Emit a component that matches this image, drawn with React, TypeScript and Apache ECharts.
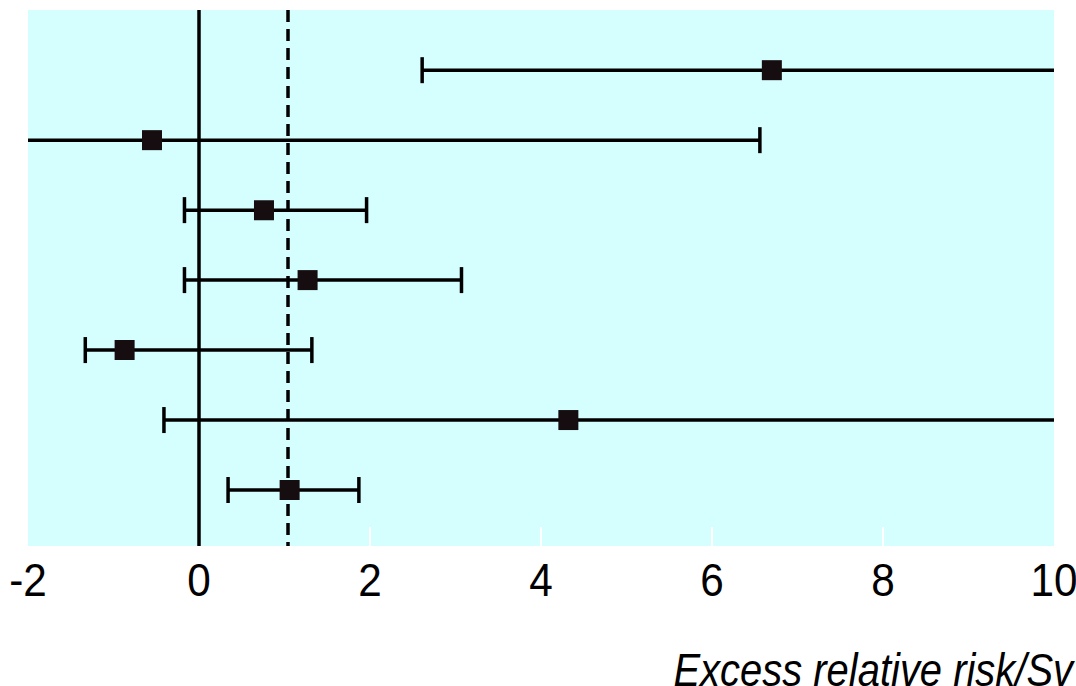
import React, { useEffect, useRef } from "react";
import * as echarts from "echarts";

const rows = [1, 2, 3, 4, 5, 6, 7];
const estimates = [6.7, -0.55, 0.76, 1.27, -0.87, 4.32, 1.06];
const lowers = [2.61, -2.6, -0.17, -0.17, -1.33, -0.41, 0.34];
const uppers = [12.5, 6.56, 1.96, 3.07, 1.32, 12.5, 1.87];
const tickValues = [-2, 0, 2, 4, 6, 8, 10];
const innerTicks = [2, 4, 6, 8];
const nullLine = 0;
const pooledLine = 1.04;
const xTitle = "Excess relative risk/Sv";

const X_MIN = -2;
const X_MAX = 10;
const Y_MIN = 0.14;
const Y_MAX = 7.8;

export default function App() {
  const ref = useRef<HTMLDivElement>(null);
  useEffect(() => {
    const chart = echarts.init(ref.current!, null, { renderer: "svg" });
    const data = rows.map((r, i) => [r, estimates[i], lowers[i], uppers[i]]);
    const font = "'Liberation Sans', Arial, Helvetica, sans-serif";
    chart.setOption({
      animation: false,
      backgroundColor: "#ffffff",
      grid: {
        left: 28,
        top: 10,
        right: 22,
        bottom: 140,
        show: true,
        backgroundColor: "#d5fefe",
        borderWidth: 0,
      },
      xAxis: {
        type: "value",
        min: X_MIN,
        max: X_MAX,
        interval: 2,
        splitLine: { show: false },
        axisLine: { show: false },
        axisTick: {
          show: true,
          inside: true,
          length: 19,
          customValues: innerTicks,
          lineStyle: { color: "#ffffff", width: 2 },
        },
        axisLabel: { show: false },
      },
      yAxis: {
        type: "value",
        inverse: true,
        min: Y_MIN,
        max: Y_MAX,
        show: false,
      },
      graphic: [
        {
          type: "text",
          x: 1073,
          y: 693,
          scaleX: 0.85,
          style: {
            text: xTitle,
            fontSize: 47,
            fontStyle: "italic",
            fontFamily: font,
            fill: "#000",
            align: "right",
            verticalAlign: "bottom",
          },
        },
      ],
      series: [
        {
          type: "custom",
          data: tickValues.map((v) => [v, Y_MAX]),
          encode: { x: 0, y: 1 },
          clip: false,
          silent: true,
          renderItem: (params: any, api: any) => {
            const v = api.value(0);
            const p = api.coord([v, api.value(1)]);
            return {
              type: "text",
              x: p[0],
              y: p[1] + 10,
              scaleX: 0.9,
              style: {
                text: String(v),
                fontSize: 47,
                fontFamily: font,
                fill: "#000",
                align: "center",
                verticalAlign: "top",
              },
            };
          },
        },
        {
          type: "custom",
          data,
          encode: { x: [1, 2, 3], y: 0 },
          clip: false,
          z: 5,
          renderItem: (params: any, api: any) => {
            const row = api.value(0);
            const est = api.value(1);
            const lo = api.value(2);
            const hi = api.value(3);
            const loC = Math.max(lo, X_MIN);
            const hiC = Math.min(hi, X_MAX);
            const pLo = api.coord([loC, row]);
            const pHi = api.coord([hiC, row]);
            const pE = api.coord([est, row]);
            const half = 13;
            const s = 20;
            const children: any[] = [
              {
                type: "line",
                shape: { x1: pLo[0], y1: pLo[1], x2: pHi[0], y2: pHi[1] },
                style: { stroke: "#000", lineWidth: 3.5 },
              },
            ];
            if (lo >= X_MIN) {
              children.push({
                type: "line",
                shape: { x1: pLo[0], y1: pLo[1] - half, x2: pLo[0], y2: pLo[1] + half },
                style: { stroke: "#000", lineWidth: 3.5 },
              });
            }
            if (hi <= X_MAX) {
              children.push({
                type: "line",
                shape: { x1: pHi[0], y1: pHi[1] - half, x2: pHi[0], y2: pHi[1] + half },
                style: { stroke: "#000", lineWidth: 3.5 },
              });
            }
            children.push({
              type: "rect",
              shape: { x: pE[0] - s / 2, y: pE[1] - s / 2, width: s, height: s },
              style: { fill: "#150d0f" },
            });
            return { type: "group", children };
          },
          markLine: {
            silent: true,
            symbol: "none",
            label: { show: false },
            data: [
              { xAxis: nullLine, lineStyle: { type: "solid", color: "#000", width: 3.5 } },
              {
                xAxis: pooledLine,
                lineStyle: { type: [12, 7], color: "#000", width: 3.5 },
              },
            ],
          },
        },
      ],
    });
    return () => chart.dispose();
  }, []);
  return (
    <div
      ref={ref}
      style={{ position: "fixed", left: 0, top: 0, width: 1076, height: 686 }}
    />
  );
}
